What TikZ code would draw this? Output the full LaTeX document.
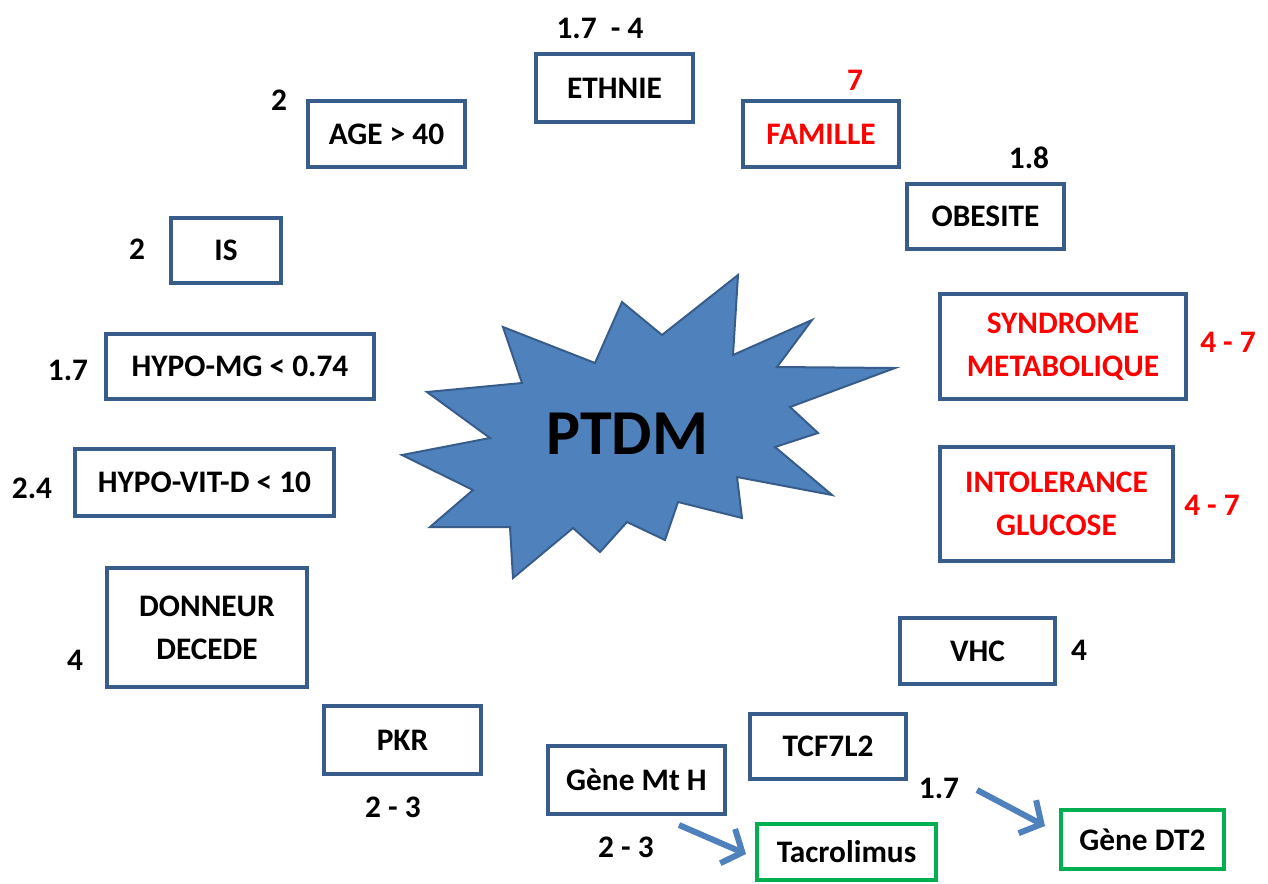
\documentclass[tikz,border=0pt]{standalone}
\usepackage{fontspec}
\setmainfont{Carlito}
\usetikzlibrary{arrows.meta}
\definecolor{boxblue}{HTML}{385D8A}
\definecolor{starblue}{HTML}{4F81BD}
\definecolor{boxgreen}{HTML}{00B050}
\definecolor{textred}{HTML}{FF0000}

\begin{document}
\begin{tikzpicture}[x=0.75pt, y=-0.75pt,
	txt/.style={font=\fontsize{23.5}{32}\selectfont\bfseries, align=center, inner sep=0pt},
	factor/.style={draw=boxblue, line width=2.6pt, txt},
	gene/.style={draw=boxgreen, line width=2.6pt, txt},
	risk/.style={txt},
	arrowline/.style={draw=starblue, line width=4.5pt, -{Straight Barb[length=12pt, width=28pt]}}]
	\useasboundingbox (0,0) rectangle (1268,883);
	\filldraw[fill=starblue, draw=boxblue, line width=1.5pt, line join=miter]
		(402,455) -- (490,438) -- (427,392) -- (522,383) -- (503,327) -- (595,363)
		-- (622,302) -- (662,335) -- (738,275) -- (733,355) -- (812,320) -- (777,367)
		-- (895,368) -- (790,407) -- (818,433) -- (775,447) -- (832,495) -- (737,477)
		-- (742,518) -- (678,502) -- (665,540) -- (627,522) -- (600,552) -- (573,528)
		-- (513,578) -- (510,527) -- (430,527) -- (473,490) -- cycle;
	\node[font=\fontsize{48}{48}\selectfont\bfseries] (ptdm) at (627,434) {PTDM};
	\node[factor, minimum width=157pt*0.75, minimum height=68pt*0.75] (ethnie) at (614.5,88) {ETHNIE};
	\node[factor, minimum width=156pt*0.75, minimum height=66pt*0.75, text=textred] (famille) at (821,134) {FAMILLE};
	\node[factor, minimum width=157pt*0.75, minimum height=65pt*0.75] (obesite) at (985.5,216.5) {OBESITE};
	\node[factor, minimum width=246pt*0.75, minimum height=105pt*0.75, text=textred] (syndrome) at (1063,346.5) {SYNDROME\\METABOLIQUE};
	\node[factor, minimum width=233pt*0.75, minimum height=114pt*0.75, text=textred] (intolerance) at (1056.5,504) {INTOLERANCE\\GLUCOSE};
	\node[factor, minimum width=155pt*0.75, minimum height=66pt*0.75] (vhc) at (977.5,651) {VHC};
	\node[factor, minimum width=156pt*0.75, minimum height=65pt*0.75] (tcf) at (828,746.5) {TCF7L2};
	\node[factor, minimum width=177pt*0.75, minimum height=68pt*0.75] (genemt) at (636.5,780) {Gène Mt H};
	\node[gene, minimum width=179pt*0.75, minimum height=56pt*0.75] (tacro) at (846.5,852) {Tacrolimus};
	\node[gene, minimum width=163pt*0.75, minimum height=59pt*0.75] (dt2) at (1142.5,839.5) {Gène DT2};
	\node[factor, minimum width=157pt*0.75, minimum height=68pt*0.75] (pkr) at (402.5,740) {PKR};
	\node[factor, minimum width=200pt*0.75, minimum height=119pt*0.75] (donneur) at (207,627.5) {DONNEUR\\DECEDE};
	\node[factor, minimum width=259pt*0.75, minimum height=67pt*0.75] (hypovit) at (204.5,482.5) {HYPO-VIT-D < 10};
	\node[factor, minimum width=268pt*0.75, minimum height=65pt*0.75] (hypomg) at (240,366.5) {HYPO-MG < 0.74};
	\node[factor, minimum width=110pt*0.75, minimum height=65pt*0.75] (is) at (226,250.5) {IS};
	\node[factor, minimum width=157pt*0.75, minimum height=66pt*0.75] (age) at (386.5,134) {AGE > 40};
	\node[risk] (r-ethnie) at (600,28) {1.7~~- 4};
	\node[risk, text=textred] (r-famille) at (855,80) {7};
	\node[risk] (r-obesite) at (1029,158) {1.8};
	\node[risk, text=textred] (r-syndrome) at (1228,342) {4 - 7};
	\node[risk, text=textred] (r-intolerance) at (1212,505) {4 - 7};
	\node[risk] (r-vhc) at (1079,650) {4};
	\node[risk] (r-dt2) at (939,788) {1.7};
	\node[risk] (r-tacro) at (626,847) {2 - 3};
	\node[risk] (r-pkr) at (393,807) {2 - 3};
	\node[risk] (r-donneur) at (75,660) {4};
	\node[risk] (r-hypovit) at (32,488) {2.4};
	\node[risk] (r-hypomg) at (68,370) {1.7};
	\node[risk] (r-is) at (137,249) {2};
	\node[risk] (r-age) at (279,100) {2};
	\coordinate (dt2-from) at (977,790);
	\coordinate (dt2-to) at (1045,826);
	\coordinate (tacro-from) at (679,825);
	\coordinate (tacro-to) at (746,854);
	\draw[arrowline] (dt2-from) -- (dt2-to);
	\draw[arrowline] (tacro-from) -- (tacro-to);
\end{tikzpicture}
\end{document}
